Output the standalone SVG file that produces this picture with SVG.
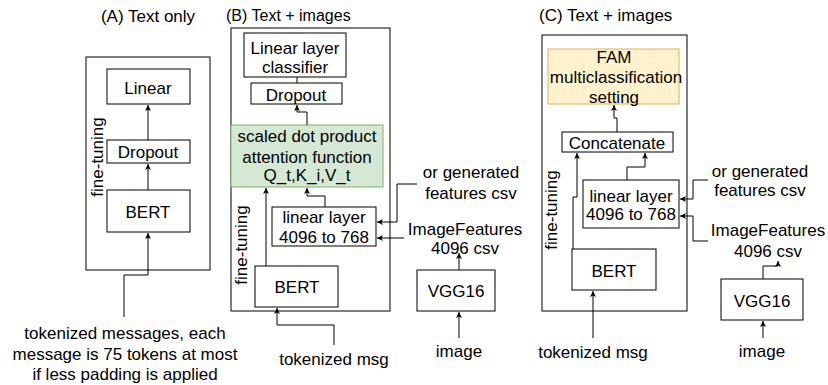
<svg xmlns="http://www.w3.org/2000/svg" width="828" height="385" viewBox="0 0 828 385">
<defs>
<style>
text{font-family:"Liberation Sans",Arial,sans-serif;font-size:17px;fill:#000;text-anchor:middle}
.box{fill:#fff;stroke:#000;stroke-width:1}
.frame{fill:none;stroke:#000;stroke-width:1}
.green{fill:#d5e8d4;stroke:#82b366;stroke-width:1}
.yellow{fill:#fff2cc;stroke:#d6b656;stroke-width:1}
.c{fill:none;stroke:#000;stroke-width:1}
.a{marker-end:url(#arr)}
.st{text-anchor:start}
</style>
<marker id="arr" markerUnits="userSpaceOnUse" markerWidth="8" markerHeight="8" refX="6" refY="3" orient="auto">
<path d="M0,0 L6,3 L0,6 L1.5,3 z" fill="#000"/>
</marker>
</defs>

<!-- Panel titles -->
<text x="148" y="22">(A) Text only</text>
<text x="226" y="21" class="st" style="font-size:16px">(B) Text + images</text>
<text x="539" y="21" class="st">(C) Text + images</text>

<!-- Panel A -->
<g id="frameA">
<rect class="frame" x="86" y="57" width="124" height="213"/>
<text transform="translate(103,157) rotate(-90)">fine-tuning</text>
</g>
<g id="A_linear"><rect class="box" x="107" y="69" width="83" height="35"/><text x="148" y="94">Linear</text></g>
<g id="A_dropout"><rect class="box" x="107" y="140" width="83" height="23"/><text x="148" y="158">Dropout</text></g>
<g id="A_bert"><rect class="box" x="107" y="190" width="83" height="42"/><text x="148" y="218">BERT</text></g>
<g id="A_input">
<text x="125" y="339">tokenized messages, each</text>
<text x="125" y="360">message is 75 tokens at most</text>
<text x="125" y="380">if less padding is applied</text>
</g>

<!-- Panel B -->
<g id="frameB">
<rect class="frame" x="231" y="28" width="159" height="283"/>
<text transform="translate(247,245) rotate(-90)">fine-tuning</text>
</g>
<g id="B_classifier"><rect class="box" x="244" y="33" width="102" height="44"/><text x="295" y="54">Linear layer</text><text x="295" y="73">classifier</text></g>
<g id="B_dropout"><rect class="box" x="251" y="83" width="91" height="21"/><text x="296" y="101">Dropout</text></g>
<g id="B_attention"><rect class="green" x="231" y="125" width="152" height="62"/><text x="307" y="142">scaled dot product</text><text x="307" y="163">attention function</text><text x="307" y="181">Q_t,K_i,V_t</text></g>
<g id="B_linear"><rect class="box" x="272" y="207" width="104" height="39"/><text x="324" y="223">linear layer</text><text x="324" y="243">4096 to 768</text></g>
<g id="B_bert"><rect class="box" x="255" y="266" width="83" height="41"/><text x="297" y="293">BERT</text></g>
<g id="B_vgg"><rect class="box" x="417" y="270" width="78" height="41"/><text x="456" y="297">VGG16</text></g>
<g id="B_gen"><text x="471" y="178">or generated</text><text x="471" y="199">features csv</text></g>
<g id="B_imgfeat"><text x="465" y="235">ImageFeatures</text><text x="465" y="254">4096 csv</text></g>
<g id="B_tok"><text x="334" y="365">tokenized msg</text></g>
<g id="B_image"><text x="459" y="357">image</text></g>

<!-- Panel C -->
<g id="frameC">
<rect class="frame" x="542" y="35" width="145" height="276"/>
<text transform="translate(557,210) rotate(-90)">fine-tuning</text>
</g>
<g id="C_fam"><rect class="yellow" x="548" y="49" width="131" height="55"/><text x="614" y="63">FAM</text><text x="616" y="83">multiclassification</text><text x="614" y="103">setting</text></g>
<g id="C_concat"><rect class="box" x="562" y="132" width="111" height="20"/><text x="617" y="149">Concatenate</text></g>
<g id="C_linear"><rect class="box" x="583" y="180" width="96" height="48"/><text x="631" y="202">linear layer</text><text x="631" y="220">4096 to 768</text></g>
<g id="C_bert"><rect class="box" x="572" y="249" width="84" height="41"/><text x="614" y="277">BERT</text></g>
<g id="C_vgg"><rect class="box" x="721" y="279" width="82" height="41"/><text x="762" y="307">VGG16</text></g>
<g id="C_gen"><text x="760" y="177">or generated</text><text x="760" y="196">features csv</text></g>
<g id="C_imgfeat"><text x="768" y="236">ImageFeatures</text><text x="768" y="257">4096 csv</text></g>
<g id="C_tok"><text x="593" y="358">tokenized msg</text></g>
<g id="C_image"><text x="762" y="357">image</text></g>

<!-- Connectors -->
<g id="connectors">
<path class="c a" d="M148,190 V164"/>
<path class="c a" d="M148,140 V105"/>
<path class="c a" d="M124,317 V275 H148 V233"/>

<path class="c" d="M297,77 V83"/>
<path class="c a" d="M307,125 V112 H297 V105"/>
<path class="c a" d="M266,266 V188"/>
<path class="c a" d="M325,207 V196 H307 V188"/>
<path class="c a" d="M417,184 H397 V222 H377"/>
<path class="c a" d="M404,238 H377"/>
<path class="c a" d="M459,270 V253"/>
<path class="c a" d="M459,338 V312"/>
<path class="c a" d="M334,345 V325 H277 V308"/>

<path class="c a" d="M617,132 V118 H614 V105"/>
<path class="c a" d="M627,180 V167 H645 V153"/>
<path class="c a" d="M573,249 V197 H577 V153"/>
<path class="c a" d="M708,180 H693 V199 H680"/>
<path class="c a" d="M708,241 H693 V216 H680"/>
<path class="c a" d="M763,279 V266 H778 V261"/>
<path class="c a" d="M763,338 V321"/>
<path class="c a" d="M593,338 V291"/>
</g>
</svg>
